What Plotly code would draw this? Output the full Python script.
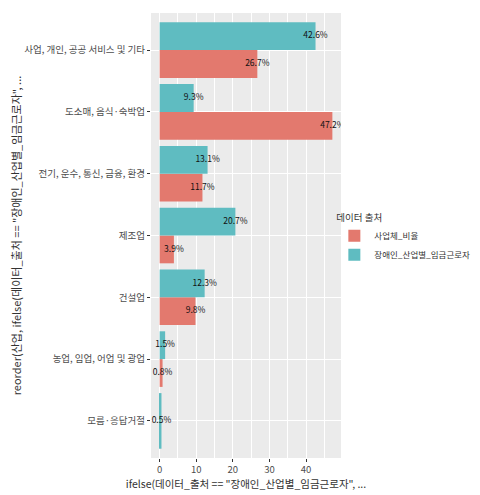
import plotly.graph_objects as go

categories = ["사업, 개인, 공공 서비스 및 기타", "도소매, 음식·숙박업", "전기, 운수, 통신, 금융, 환경",
              "제조업", "건설업", "농업, 임업, 어업 및 광업", "모름·응답거절"]
series_names = ["사업체_비율", "장애인_산업별_임금근로자"]
biz_ratio = [26.7, 47.2, 11.7, 3.9, 9.8, 0.8, None]
worker_ratio = [42.6, 9.3, 13.1, 20.7, 12.3, 1.5, 0.5]
x_ticks = [0, 10, 20, 30, 40]

colors = ["#E3796E", "#5FBCC1"]
FONT = "Noto Sans CJK KR"
idx = list(range(len(categories)))
half = 0.45

# dodge positions (ggplot-like): red below, teal above; single bar takes full width
red_off, red_w, teal_off, teal_w = [], [], [], []
red_ty, teal_ty = [], []
for i, (a, b) in enumerate(zip(biz_ratio, worker_ratio)):
    both = a is not None and b is not None
    if both:
        red_off.append(0); red_w.append(half)
        teal_off.append(-half); teal_w.append(half)
        red_ty.append(i + half / 2); teal_ty.append(i - half / 2)
    else:
        red_off.append(-half); red_w.append(2 * half)
        teal_off.append(-half); teal_w.append(2 * half)
        red_ty.append(i); teal_ty.append(i)

fig = go.Figure()
fig.add_trace(go.Bar(y=idx, x=biz_ratio, orientation="h", offset=red_off, width=red_w,
                     marker=dict(color=colors[0], line=dict(width=0)), name=series_names[0]))
fig.add_trace(go.Bar(y=idx, x=worker_ratio, orientation="h", offset=teal_off, width=teal_w,
                     marker=dict(color=colors[1], line=dict(width=0)), name=series_names[1]))

for vals, ty in [(biz_ratio, red_ty), (worker_ratio, teal_ty)]:
    xs = [v for v in vals if v is not None]
    ys = [y for v, y in zip(vals, ty) if v is not None]
    fig.add_trace(go.Scatter(x=xs, y=ys, mode="text", text=[f"{v}%" for v in xs],
                             textfont=dict(size=8.5, color="#111", family=FONT),
                             showlegend=False, hoverinfo="skip"))

fig.update_layout(
    width=480, height=495,
    barmode="overlay",
    paper_bgcolor="white", plot_bgcolor="#EBEBEB",
    margin=dict(l=143, r=147, t=5, b=45),
    font=dict(family=FONT, color="#4D4D4D"),
    legend=dict(title=dict(text="데이터 출처", font=dict(size=9.5, color="#333")),
                font=dict(size=8.5, color="#333"), x=0.965, xanchor="left",
                y=0.56, yanchor="top", traceorder="normal", bgcolor="rgba(0,0,0,0)",
                itemwidth=30),
)
fig.update_xaxes(range=[-2.36, 49.56], tickvals=x_ticks, showgrid=True, gridcolor="white",
                 gridwidth=1, zeroline=False, ticks="outside", ticklen=3, tickcolor="#333",
                 tickfont=dict(size=9.5, color="#4D4D4D"), automargin=False,
                 minor=dict(dtick=5, tick0=5, showgrid=True, gridcolor="white", gridwidth=0.5, ticks=""),
                 title=dict(text='ifelse(데이터_출처 == "장애인_산업별_임금근로자", ...',
                            font=dict(size=10.5, color="#333"), standoff=2))
fig.update_yaxes(range=[6.6, -0.6], tickvals=idx, ticktext=categories, showgrid=True,
                 gridcolor="white", gridwidth=1, zeroline=False, ticks="outside", ticklen=3,
                 tickcolor="#333", tickfont=dict(size=9.5, color="#4D4D4D"), automargin=False,
                 title=dict(text='reorder(산업, ifelse(데이터_출처 == "장애인_산업별_임금근로자", ...',
                            font=dict(size=11, color="#333"), standoff=0))

fig.write_html("out.html")
